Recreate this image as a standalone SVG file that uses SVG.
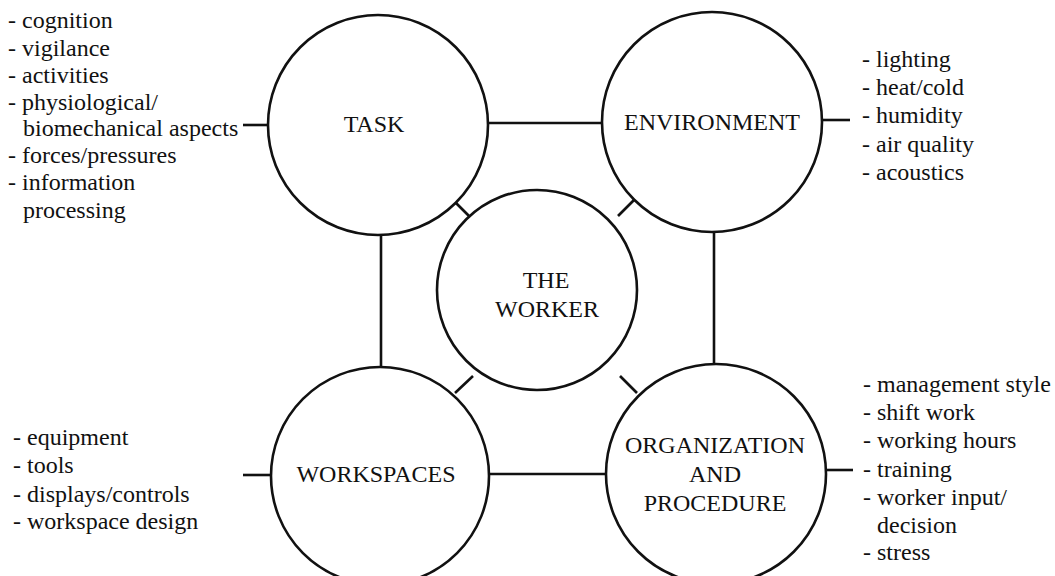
<svg xmlns="http://www.w3.org/2000/svg" width="1055" height="576" viewBox="0 0 1055 576">
<style>
.node{fill:#fff;stroke:#111;stroke-width:2.6}
.edge{stroke:#111;stroke-width:2.6;fill:none}
text{font-family:"Liberation Serif","Times New Roman",serif;font-size:24px;fill:#111}
.lbl{text-anchor:middle}
</style>
<rect width="1055" height="576" fill="#fff"/>
<g id="connectors">
<line class="edge" x1="488" y1="123" x2="602" y2="123"/>
<line class="edge" x1="381" y1="234" x2="381" y2="367"/>
<line class="edge" x1="714" y1="231" x2="714" y2="364"/>
<line class="edge" x1="489" y1="474" x2="607" y2="474"/>
<line class="edge" x1="454" y1="201" x2="471" y2="218"/>
<line class="edge" x1="634" y1="200" x2="618" y2="216"/>
<line class="edge" x1="455" y1="393" x2="473" y2="376"/>
<line class="edge" x1="620" y1="376" x2="637" y2="393"/>
<line class="edge" x1="243" y1="125" x2="268" y2="125"/>
<line class="edge" x1="822" y1="120" x2="850" y2="120"/>
<line class="edge" x1="243" y1="475" x2="271" y2="475"/>
<line class="edge" x1="826" y1="470" x2="853" y2="470"/>
</g>
<g id="task">
<circle class="node" cx="378" cy="125" r="110"/>
<text class="lbl" x="374" y="132">TASK</text>
</g>
<g id="environment">
<circle class="node" cx="712" cy="122" r="110"/>
<text class="lbl" x="712" y="130">ENVIRONMENT</text>
</g>
<g id="worker">
<circle class="node" cx="537" cy="290" r="100"/>
<text class="lbl" x="546" y="288">THE</text>
<text class="lbl" x="547" y="317">WORKER</text>
</g>
<g id="workspaces">
<circle class="node" cx="380" cy="476" r="109"/>
<text class="lbl" x="376" y="482">WORKSPACES</text>
</g>
<g id="organization">
<circle class="node" cx="716" cy="474" r="110"/>
<text class="lbl" x="715" y="453">ORGANIZATION</text>
<text class="lbl" x="715" y="482">AND</text>
<text class="lbl" x="715" y="511">PROCEDURE</text>
</g>
<g id="task-list">
<text x="8" y="28">- cognition</text>
<text x="8" y="56">- vigilance</text>
<text x="8" y="83">- activities</text>
<text x="8" y="110">- physiological/</text>
<text x="23" y="136">biomechanical aspects</text>
<text x="8" y="163">- forces/pressures</text>
<text x="8" y="190">- information</text>
<text x="23" y="218">processing</text>
</g>
<g id="environment-list">
<text x="862" y="67">- lighting</text>
<text x="862" y="95">- heat/cold</text>
<text x="862" y="123">- humidity</text>
<text x="862" y="152">- air quality</text>
<text x="862" y="180">- acoustics</text>
</g>
<g id="workspaces-list">
<text x="13" y="445">- equipment</text>
<text x="13" y="473">- tools</text>
<text x="13" y="502">- displays/controls</text>
<text x="13" y="529">- workspace design</text>
</g>
<g id="organization-list">
<text x="863" y="392">- management style</text>
<text x="863" y="420">- shift work</text>
<text x="863" y="448">- working hours</text>
<text x="863" y="477">- training</text>
<text x="863" y="505">- worker input/</text>
<text x="877" y="533">decision</text>
<text x="863" y="560">- stress</text>
</g>
</svg>
